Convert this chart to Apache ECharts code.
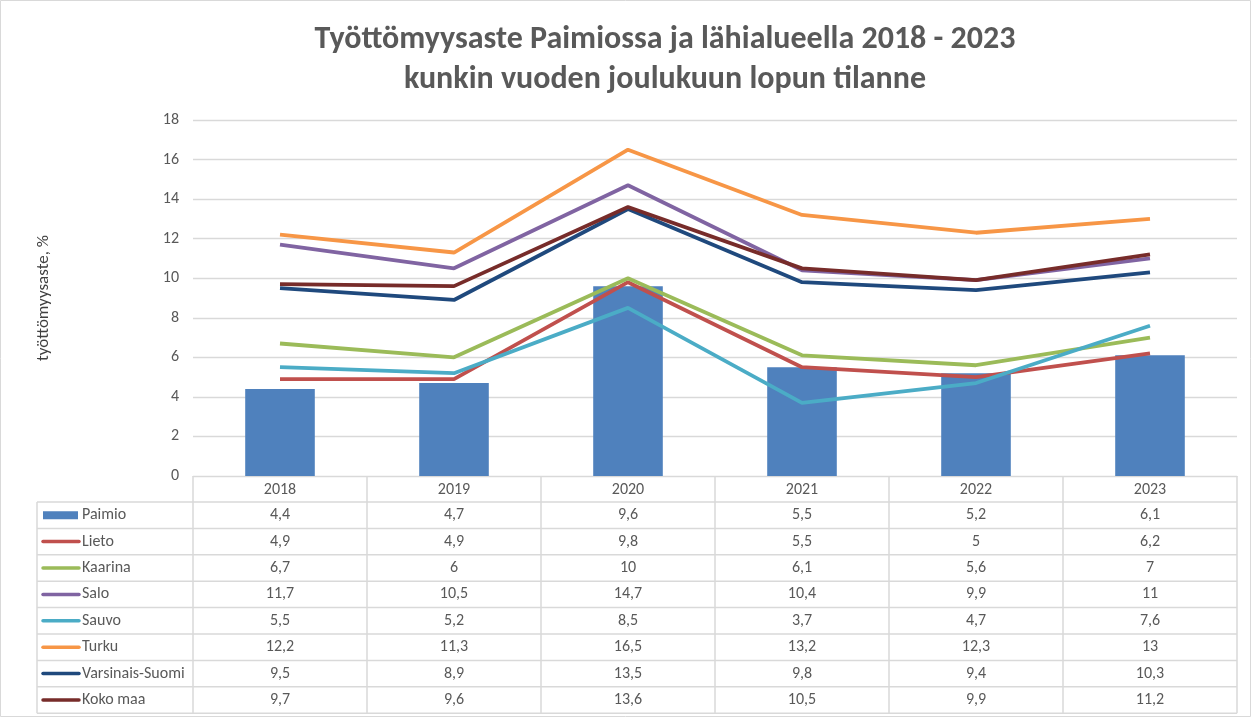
<!DOCTYPE html>
<html><head><meta charset="utf-8">
<script src="https://cdn.jsdelivr.net/npm/echarts@6/dist/echarts.min.js"></script>
<style>html,body{margin:0;padding:0;background:#fff}#c{width:1251px;height:717px}</style>
</head><body><div id="c"></div>
<script>
const years = ['2018','2019','2020','2021','2022','2023'];
const yTicks = [0,2,4,6,8,10,12,14,16,18];
const names = ['Paimio','Lieto','Kaarina','Salo','Sauvo','Turku','Varsinais-Suomi','Koko maa'];
const paimio = [4.4,4.7,9.6,5.5,5.2,6.1];
const lieto = [4.9,4.9,9.8,5.5,5,6.2];
const kaarina = [6.7,6,10,6.1,5.6,7];
const salo = [11.7,10.5,14.7,10.4,9.9,11];
const sauvo = [5.5,5.2,8.5,3.7,4.7,7.6];
const turku = [12.2,11.3,16.5,13.2,12.3,13];
const varsinaisSuomi = [9.5,8.9,13.5,9.8,9.4,10.3];
const kokoMaa = [9.7,9.6,13.6,10.5,9.9,11.2];
const colors = ['#4f81bd','#c0504d','#9bbb59','#8064a2','#4bacc6','#f79646','#1f497d','#772c2a'];
const allData = [paimio,lieto,kaarina,salo,sauvo,turku,varsinaisSuomi,kokoMaa];

const FONT = 'Carlito, Calibri, "Liberation Sans Narrow", "Open Sans", sans-serif';
const chart = echarts.init(document.getElementById('c'), null, {renderer:'canvas'});

const series = names.map((n,i)=> i===0 ? {
  name:n, type:'bar', data:paimio, barWidth:'40%', itemStyle:{color:colors[0]}, z:1
} : {
  name:n, type:'line', data:allData[i], symbol:'none', lineStyle:{width:3.8,color:colors[i]}, itemStyle:{color:colors[i]}, z:2+i
});

chart.setOption({
  animation:false,
  backgroundColor:'#fff',
  title:{
    text:'Työttömyysaste Paimiossa ja lähialueella 2018 - 2023\nkunkin vuoden joulukuun lopun tilanne',
    left:660, textAlign:'center', top:15,
    textStyle:{fontFamily:FONT, fontSize:32, fontWeight:'bold', color:'#595959', lineHeight:40}
  },
  grid:{left:193, right:14, top:120, bottom:241},
  xAxis:{
    type:'category', data:years,
    axisLine:{lineStyle:{color:'#d9d9d9'}},
    axisTick:{show:false},
    axisLabel:{color:'#595959', fontFamily:FONT, fontSize:16, margin:6}
  },
  yAxis:{
    type:'value', min:0, max:18, interval:2,
    name:'työttömyysaste, %', nameLocation:'middle', nameGap:141, nameRotate:90,
    nameTextStyle:{color:'#404040', fontFamily:FONT, fontSize:17},
    axisLabel:{color:'#595959', fontFamily:FONT, fontSize:16, margin:14},
    splitLine:{lineStyle:{color:'#d9d9d9', width:1.3}},
    axisLine:{show:false}, axisTick:{show:false}
  },
  series:series
});

function buildTable(){
  const c0 = chart.convertToPixel({xAxisIndex:0}, years[0]);
  const c1 = chart.convertToPixel({xAxisIndex:0}, years[1]);
  const band = c1 - c0;
  const left = c0 - band/2;
  const right = left + band*years.length;
  const y0 = chart.convertToPixel({yAxisIndex:0}, 0);
  const headerBottom = y0 + 26;
  const rowH = 26.4;
  const tableBottom = headerBottom + rowH*names.length;
  const tLeft = 37;
  const g = [];
  const lc = '#d9d9d9';
  const line = (x1,y1,x2,y2)=>({type:'line', shape:{x1,y1,x2,y2}, style:{stroke:lc, lineWidth:1.5}, silent:true});
  for(let k=0;k<=years.length;k++){
    const x = left + band*k;
    g.push(line(x, y0, x, tableBottom));
  }
  g.push(line(tLeft, headerBottom, tLeft, tableBottom));
  g.push(line(tLeft, headerBottom, right, headerBottom));
  for(let r=1;r<=names.length;r++){
    const y = headerBottom + rowH*r;
    g.push(line(tLeft, y, right, y));
  }
  names.forEach((n,r)=>{
    const yc = headerBottom + rowH*(r+0.5);
    if(r===0){
      g.push({type:'rect', shape:{x:43, y:yc-4, width:35, height:8}, style:{fill:colors[r]}, silent:true});
    } else {
      g.push({type:'line', shape:{x1:43, y1:yc, x2:79, y2:yc}, style:{stroke:colors[r], lineWidth:3.5, lineCap:'round'}, silent:true});
    }
    g.push({type:'text', x:82, y:yc, style:{text:n, fill:'#595959', font:'16px '+FONT, textVerticalAlign:'middle', verticalAlign:'middle'}, silent:true});
    allData[r].forEach((v,k)=>{
      const xc = chart.convertToPixel({xAxisIndex:0}, years[k]);
      g.push({type:'text', x:xc, y:yc, style:{text:String(v).replace('.',','), fill:'#595959', font:'16px '+FONT, textAlign:'center', align:'center', textVerticalAlign:'middle', verticalAlign:'middle'}, silent:true});
    });
  });
  g.push({type:'rect', shape:{x:0.5,y:0.5,width:1250,height:716}, style:{fill:null, stroke:'#d9d9d9', lineWidth:1}, silent:true});
  chart.setOption({graphic:g});
}
buildTable();
</script>
</body></html>
